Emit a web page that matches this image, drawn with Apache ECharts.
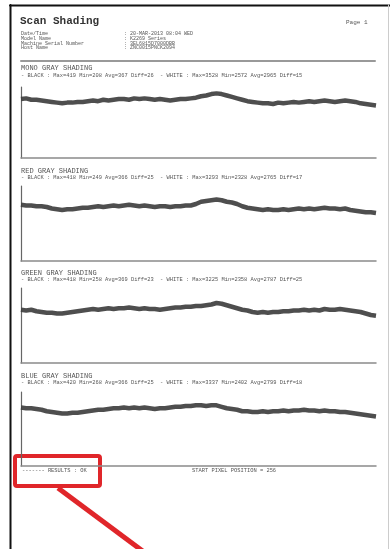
<!DOCTYPE html>
<html>
<head>
<meta charset="utf-8">
<title>Scan Shading</title>
<script src="https://cdn.jsdelivr.net/npm/echarts@6/dist/echarts.min.js"></script>
<style>
  html, body { margin: 0; padding: 0; background: #fff; }
  #main { width: 390px; height: 549px; }
</style>
</head>
<body>
<div id="main"></div>
<script>
  // 各通道阴影曲线，从图上估读的相对电平 (0-100)
  var monoLevels = [83,84,82,82,81,80,79,78,77,78, 78,79,79,80,81,80,82,81,82,83, 83,82,84,83,84,83,82,83,82,81, 82,83,83,84,85,87,88,90,91,90, 88,86,84,82,80,79,78,77,77,76, 78,77,78,79,78,79,80,79,80,81, 80,79,80,81,80,79,77,76,75,74];
  var redLevels = [75,74,74,73,73,72,70,69,68,69, 69,70,71,71,72,73,72,73,74,73, 74,75,74,73,74,73,72,73,73,72, 73,73,74,74,76,79,80,81,82,81, 79,78,76,73,71,70,69,68,69,68, 68,69,68,69,70,69,70,69,70,71, 70,70,69,70,68,67,66,65,65,64];
  var greenLevels = [71,70,71,69,68,67,67,66,66,67, 68,69,70,71,72,71,72,73,72,73, 73,74,73,72,73,72,72,71,72,73, 74,74,75,75,76,76,77,78,80,79, 77,75,73,71,70,68,67,68,67,68, 68,69,69,70,70,71,70,71,70,72, 71,71,72,71,70,69,68,66,64,63];
  var blueLevels = [79,78,78,77,76,74,73,72,71,71, 72,72,73,74,75,76,76,77,78,78, 79,78,79,78,79,78,77,78,78,79, 80,80,81,81,82,82,81,82,82,80, 78,77,76,74,74,73,73,74,73,74, 74,75,74,75,75,76,75,75,74,75, 74,74,73,73,72,71,70,69,68,67];

  var sectionNames = ['MONO GRAY SHADING', 'RED GRAY SHADING', 'GREEN GRAY SHADING', 'BLUE GRAY SHADING'];
  var blackStats = [
    '- BLACK : Max=419 Min=208 Avg=367 Diff=26',
    '- BLACK : Max=418 Min=249 Avg=366 Diff=25',
    '- BLACK : Max=418 Min=258 Avg=369 Diff=23',
    '- BLACK : Max=420 Min=268 Avg=366 Diff=25'
  ];
  var whiteStats = [
    '- WHITE : Max=3528 Min=2572 Avg=2965 Diff=15',
    '- WHITE : Max=3293 Min=2328 Avg=2765 Diff=17',
    '- WHITE : Max=3225 Min=2358 Avg=2787 Diff=25',
    '- WHITE : Max=3337 Min=2402 Avg=2799 Diff=18'
  ];
  var headerLabels = ['Date/Time', 'Model Name', 'Machine Serial Number', 'Host Name'];
  var headerValues = [': 20-MAR-2013 08:04 WED', ': K2269 Series', ': 3EL6815D7000DBB', ': ZNC0015PNCK2094'];

  var allLevels = [monoLevels, redLevels, greenLevels, blueLevels];
  var pixelIndex = monoLevels.map(function (v, i) { return i; });

  // 版面位置
  var panelTop = [87, 186, 288, 392];
  var panelHeight = [71, 75, 75, 74];
  var nameY = [68, 171, 273, 376];
  var statY = [76, 178, 280, 383];
  var mono = "'Liberation Mono', 'DejaVu Sans Mono', monospace";
  var textColor = '#555';

  function txt(s, x, y, size, color, weight) {
    return {
      type: 'text', x: x, y: y, silent: true,
      style: {
        text: s, fill: color || textColor, fontSize: size,
        fontFamily: mono, fontWeight: weight || 'normal', verticalAlign: 'middle'
      }
    };
  }
  function seg(x1, y1, x2, y2, color, w) {
    return { type: 'line', silent: true, shape: {x1: x1, y1: y1, x2: x2, y2: y2}, style: {stroke: color, lineWidth: w, lineCap: 'round'} };
  }

  var grids = [], xAxes = [], yAxes = [], series = [];
  var graphics = [];

  allLevels.forEach(function (levels, k) {
    grids.push({left: 21, right: 14, top: panelTop[k], height: panelHeight[k]});
    xAxes.push({
      type: 'category', gridIndex: k, data: pixelIndex, boundaryGap: false,
      axisLine: {show: true, lineStyle: {color: '#8a8a8a', width: 1.5}},
      axisTick: {show: false}, axisLabel: {show: false}, splitLine: {show: false}
    });
    yAxes.push({
      type: 'value', gridIndex: k, min: 0, max: 100,
      axisLine: {show: true, lineStyle: {color: '#666', width: 1.2}},
      axisTick: {show: false}, axisLabel: {show: false}, splitLine: {show: false}
    });
    series.push({
      type: 'line', xAxisIndex: k, yAxisIndex: k, data: levels,
      showSymbol: false, smooth: false, silent: true,
      lineStyle: {color: '#3b3b3b', width: 4.5, opacity: 0.9}
    });
    graphics.push(txt(sectionNames[k], 21, nameY[k], 7));
    graphics.push(txt(blackStats[k], 21, statY[k], 5.4));
    graphics.push(txt(whiteStats[k], 160, statY[k], 5.4));
  });

  // 页框
  graphics.push(seg(10.5, 5, 10.5, 549, '#111', 2));
  graphics.push(seg(10, 5.5, 390, 5.5, '#111', 2));
  graphics.push(seg(388.5, 5, 388.5, 549, '#ccc', 1));
  // 页头
  graphics.push(txt('Scan Shading', 20, 21, 11, '#333', 'bold'));
  graphics.push(txt('Page 1', 346, 22, 6));
  headerLabels.forEach(function (s, i) {
    graphics.push(txt(s, 21, 34 + i * 4.6, 5));
    graphics.push(txt(headerValues[i], 124, 34 + i * 4.6, 5));
  });
  graphics.push(seg(21, 61, 375, 61, '#999', 2));
  // 页脚
  graphics.push(txt('------- RESULTS : OK', 22, 471, 5.4));
  graphics.push(txt('START PIXEL POSITION = 256', 192, 471, 5.4));
  // 红色标注
  graphics.push({type: 'rect', silent: true, shape: {x: 15, y: 456, width: 85, height: 30, r: 2}, style: {fill: 'none', stroke: '#e0262a', lineWidth: 4}});
  graphics.push({type: 'line', silent: true, shape: {x1: 58, y1: 488, x2: 148, y2: 555}, style: {stroke: '#e0262a', lineWidth: 5}});

  var chart = echarts.init(document.getElementById('main'), null, {renderer: 'canvas'});
  chart.setOption({
    animation: false,
    backgroundColor: '#fff',
    grid: grids,
    xAxis: xAxes,
    yAxis: yAxes,
    series: series,
    graphic: graphics
  });
  window.addEventListener('resize', function () { chart.resize(); });
</script>
</body>
</html>
